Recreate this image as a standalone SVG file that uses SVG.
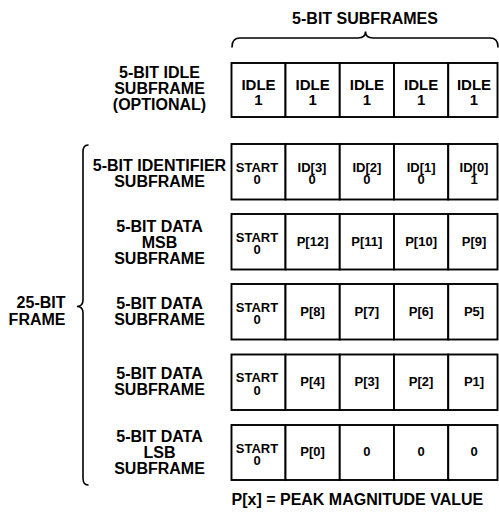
<svg xmlns="http://www.w3.org/2000/svg" width="499" height="514" viewBox="0 0 499 514">
<style>
  text { font-family: "Liberation Sans", Arial, sans-serif; font-weight: bold; fill: #000; text-anchor: middle; }
  .lbl { font-size: 16px; }
  .idle { font-size: 15px; }
  .cell-t { font-size: 13px; }
  .cell { fill: #fff; stroke: #000; stroke-width: 1.9; }
  .brace { fill: none; stroke: #000; stroke-width: 1.6; stroke-linecap: round; }
</style>
<rect width="499" height="514" fill="#fff"/>

<g id="title">
  <text class="lbl" x="365" y="24">5-BIT SUBFRAMES</text>
</g>

<g id="connectors">
  <path class="brace" d="M232,47 Q232,38 240,38 L358,38 Q365.5,38 365.5,31.5 Q365.5,38 373,38 L490,38 Q498,38 498,47"/>
  <path class="brace" d="M88,145 Q83,145 83,152 L83,300 Q83,306.5 77,306.5 Q83,306.5 83,313 L83,478 Q83,485 88,485"/>
</g>

<g id="frame-label">
  <text class="lbl" x="65.5" y="308" style="text-anchor:end">25-BIT</text>
  <text class="lbl" x="65.5" y="324.5" style="text-anchor:end">FRAME</text>
</g>

<g id="label-idle">
  <text class="lbl" x="159.5" y="78.3">5-BIT IDLE</text>
  <text class="lbl" x="159.5" y="94.3">SUBFRAME</text>
  <text class="lbl" x="159.5" y="110.3">(OPTIONAL)</text>
</g>
<g id="label-identifier">
  <text class="lbl" x="159.5" y="170.5">5-BIT IDENTIFIER</text>
  <text class="lbl" x="159.5" y="186.5">SUBFRAME</text>
</g>
<g id="label-msb">
  <text class="lbl" x="159.5" y="231.5">5-BIT DATA</text>
  <text class="lbl" x="159.5" y="247.5">MSB</text>
  <text class="lbl" x="159.5" y="263.5">SUBFRAME</text>
</g>
<g id="label-data1">
  <text class="lbl" x="159.5" y="308.5">5-BIT DATA</text>
  <text class="lbl" x="159.5" y="324.5">SUBFRAME</text>
</g>
<g id="label-data2">
  <text class="lbl" x="159.5" y="378.5">5-BIT DATA</text>
  <text class="lbl" x="159.5" y="394.5">SUBFRAME</text>
</g>
<g id="label-lsb">
  <text class="lbl" x="159.5" y="442.3">5-BIT DATA</text>
  <text class="lbl" x="159.5" y="458.3">LSB</text>
  <text class="lbl" x="159.5" y="474.3">SUBFRAME</text>
</g>

<g id="row-idle">
  <rect class="cell" x="231.5" y="63" width="54" height="54"/>
  <rect class="cell" x="285.5" y="63" width="54.25" height="54"/>
  <rect class="cell" x="339.75" y="63" width="54.25" height="54"/>
  <rect class="cell" x="394" y="63" width="54.25" height="54"/>
  <rect class="cell" x="448.25" y="63" width="49.25" height="54"/>
  <text class="idle" x="258.5" y="89.5">IDLE</text><text class="idle" x="258.5" y="104.5">1</text>
  <text class="idle" x="312.6" y="89.5">IDLE</text><text class="idle" x="312.6" y="104.5">1</text>
  <text class="idle" x="366.9" y="89.5">IDLE</text><text class="idle" x="366.9" y="104.5">1</text>
  <text class="idle" x="421.1" y="89.5">IDLE</text><text class="idle" x="421.1" y="104.5">1</text>
  <text class="idle" x="474" y="89.5">IDLE</text><text class="idle" x="474" y="104.5">1</text>
</g>

<g id="row-identifier">
  <rect class="cell" x="231.5" y="144" width="54" height="55.5"/>
  <rect class="cell" x="285.5" y="144" width="54.25" height="55.5"/>
  <rect class="cell" x="339.75" y="144" width="54.25" height="55.5"/>
  <rect class="cell" x="394" y="144" width="54.25" height="55.5"/>
  <rect class="cell" x="448.25" y="144" width="49.25" height="55.5"/>
  <text class="cell-t" x="257" y="171.7">START</text><text class="cell-t" x="257" y="184.2">0</text>
  <text class="cell-t" x="312" y="171.7">ID[3]</text><text class="cell-t" x="312" y="184.2">0</text>
  <text class="cell-t" x="366.9" y="171.7">ID[2]</text><text class="cell-t" x="366.9" y="184.2">0</text>
  <text class="cell-t" x="421.1" y="171.7">ID[1]</text><text class="cell-t" x="421.1" y="184.2">0</text>
  <text class="cell-t" x="474" y="171.7">ID[0]</text><text class="cell-t" x="474" y="184.2">1</text>
</g>

<g id="row-msb">
  <rect class="cell" x="231.5" y="214" width="54" height="55.5"/>
  <rect class="cell" x="285.5" y="214" width="54.25" height="55.5"/>
  <rect class="cell" x="339.75" y="214" width="54.25" height="55.5"/>
  <rect class="cell" x="394" y="214" width="54.25" height="55.5"/>
  <rect class="cell" x="448.25" y="214" width="49.25" height="55.5"/>
  <text class="cell-t" x="257" y="241.7">START</text><text class="cell-t" x="257" y="254.2">0</text>
  <text class="cell-t" x="312.6" y="245.5">P[12]</text>
  <text class="cell-t" x="366.9" y="245.5">P[11]</text>
  <text class="cell-t" x="421.1" y="245.5">P[10]</text>
  <text class="cell-t" x="474" y="245.5">P[9]</text>
</g>

<g id="row-data1">
  <rect class="cell" x="231.5" y="284" width="54" height="55.5"/>
  <rect class="cell" x="285.5" y="284" width="54.25" height="55.5"/>
  <rect class="cell" x="339.75" y="284" width="54.25" height="55.5"/>
  <rect class="cell" x="394" y="284" width="54.25" height="55.5"/>
  <rect class="cell" x="448.25" y="284" width="49.25" height="55.5"/>
  <text class="cell-t" x="257" y="311.7">START</text><text class="cell-t" x="257" y="324.2">0</text>
  <text class="cell-t" x="312.6" y="315.5">P[8]</text>
  <text class="cell-t" x="366.9" y="315.5">P[7]</text>
  <text class="cell-t" x="421.1" y="315.5">P[6]</text>
  <text class="cell-t" x="474" y="315.5">P5]</text>
</g>

<g id="row-data2">
  <rect class="cell" x="231.5" y="354.5" width="54" height="55.5"/>
  <rect class="cell" x="285.5" y="354.5" width="54.25" height="55.5"/>
  <rect class="cell" x="339.75" y="354.5" width="54.25" height="55.5"/>
  <rect class="cell" x="394" y="354.5" width="54.25" height="55.5"/>
  <rect class="cell" x="448.25" y="354.5" width="49.25" height="55.5"/>
  <text class="cell-t" x="257" y="382.2">START</text><text class="cell-t" x="257" y="394.7">0</text>
  <text class="cell-t" x="312.6" y="386">P[4]</text>
  <text class="cell-t" x="366.9" y="386">P[3]</text>
  <text class="cell-t" x="421.1" y="386">P[2]</text>
  <text class="cell-t" x="474" y="386">P1]</text>
</g>

<g id="row-lsb">
  <rect class="cell" x="231.5" y="425" width="54" height="55"/>
  <rect class="cell" x="285.5" y="425" width="54.25" height="55"/>
  <rect class="cell" x="339.75" y="425" width="54.25" height="55"/>
  <rect class="cell" x="394" y="425" width="54.25" height="55"/>
  <rect class="cell" x="448.25" y="425" width="49.25" height="55"/>
  <text class="cell-t" x="257" y="452.5">START</text><text class="cell-t" x="257" y="465">0</text>
  <text class="cell-t" x="312.6" y="456.3">P[0]</text>
  <text class="cell-t" x="366.9" y="456.3">0</text>
  <text class="cell-t" x="421.1" y="456.3">0</text>
  <text class="cell-t" x="474" y="456.3">0</text>
</g>

<g id="footer">
  <text class="lbl" x="231.5" y="505" style="text-anchor:start">P[x] = PEAK MAGNITUDE VALUE</text>
</g>
</svg>
